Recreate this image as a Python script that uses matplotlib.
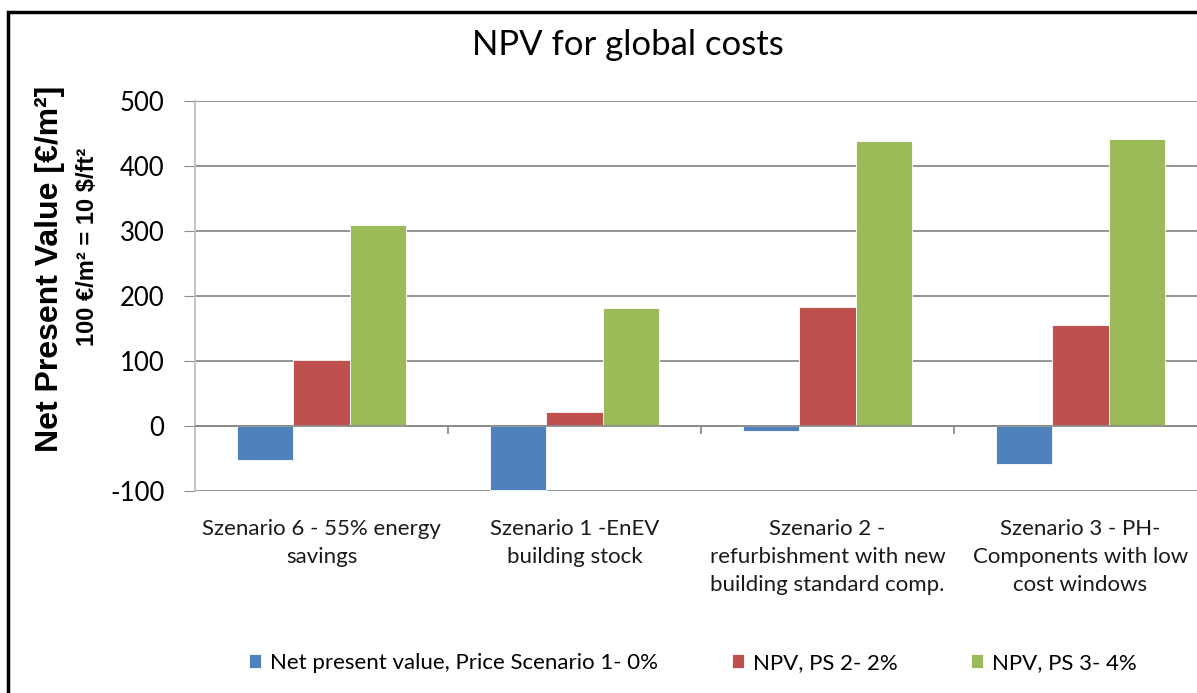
import matplotlib
matplotlib.use("Agg")
import matplotlib.pyplot as plt
import numpy as np
from matplotlib.patches import Rectangle

# data
categories = [
    "Szenario 6 - 55% energy\nsavings",
    "Szenario 1 -EnEV\nbuilding stock",
    "Szenario 2 -\nrefurbishment with new\nbuilding standard comp.",
    "Szenario 3 - PH-\nComponents with low\ncost windows",
]
series_names = [
    "Net present value, Price Scenario 1- 0%",
    "NPV, PS 2- 2%",
    "NPV, PS 3- 4%",
]
ps1_values = [-52, -98, -8, -58]
ps2_values = [102, 21, 183, 155]
ps3_values = [309, 181, 439, 442]
y_ticks = [-100, 0, 100, 200, 300, 400, 500]

colors = ["#4F81BD", "#C0504D", "#9BBB59"]
grid_color = "#8C8C8C"

plt.rcParams["font.family"] = ["Lato", "DejaVu Sans"]

fig = plt.figure(figsize=(11.97, 6.93), dpi=100)
ax = fig.add_axes([195 / 1197, 1 - 491 / 693, 1012 / 1197, 390 / 693])

x = np.arange(len(categories))
w = 0.222
for i, vals in enumerate([ps1_values, ps2_values, ps3_values]):
    ax.bar(x + (i - 1) * w, vals, width=w, color=colors[i],
           edgecolor="white", linewidth=0.6, label=series_names[i], zorder=3)

ax.set_xlim(-0.5, len(categories) - 0.5)
ax.set_ylim(-100, 500)
ax.set_yticks(y_ticks)
ax.set_yticklabels([str(v) for v in y_ticks], fontsize=18.5)
ax.yaxis.grid(True, color=grid_color, linewidth=1.3, zorder=0)
ax.tick_params(axis="y", length=8, color=grid_color, pad=14)
ax.set_xticks([])

for side in ["top", "right", "bottom"]:
    ax.spines[side].set_visible(False)
ax.spines["left"].set_color("#BFBFBF")
ax.spines["left"].set_linewidth(1.3)

# category axis at zero with boundary ticks
ax.axhline(0, color=grid_color, linewidth=1.3, zorder=4)
for b in np.arange(0.5, len(categories) - 0.5, 1.0):
    ax.plot([b, b], [0, -11], color=grid_color, linewidth=1.3, zorder=4,
            clip_on=False)

for i, lab in enumerate(categories):
    ax.text(i, -143, lab, ha="center", va="top", fontsize=16,
            linespacing=1.5, color="#1a1a1a")

fig.text(628 / 1197, 1 - 45 / 693, "NPV for global costs", ha="center",
         va="center", fontsize=25)

fig.text(50 / 1197, 1 - 269 / 693, "Net Present Value [€/m²]", rotation=90,
         ha="center", va="center", fontsize=23, fontweight="bold",
         family=["Liberation Sans", "DejaVu Sans"])
fig.text(88 / 1197, 1 - 247 / 693, "100 €/m² = 10 $/ft²", rotation=90,
         ha="center", va="center", fontsize=17, fontweight="bold",
         family=["Liberation Sans", "DejaVu Sans"])

# outer chart border
fig.patches.append(Rectangle((8 / 1197, -0.05), 1.1, 1 - 12 / 693 + 0.05,
                             transform=fig.transFigure, fill=False,
                             edgecolor="black", linewidth=2.5))

handles, labels = ax.get_legend_handles_labels()
fig.legend(handles, labels, loc="center", ncol=3,
           bbox_to_anchor=(693 / 1197, 1 - 663 / 693), frameon=False,
           fontsize=16, handlelength=0.55, handleheight=0.55,
           handletextpad=0.4, columnspacing=3.3)

fig.savefig("out.png", dpi=100)
